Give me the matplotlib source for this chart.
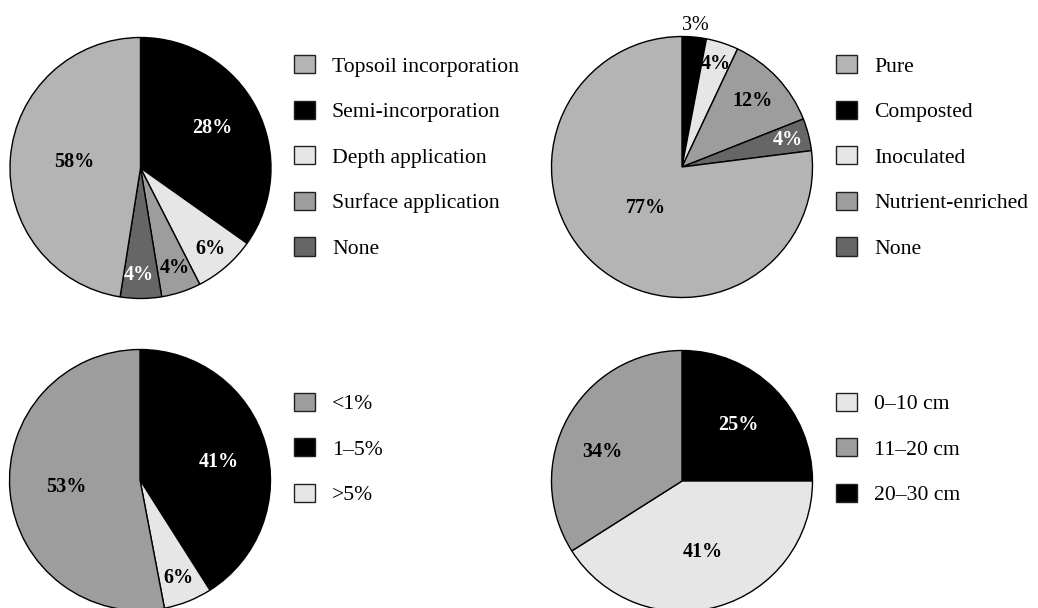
import numpy as np
import matplotlib
matplotlib.use("Agg")
import matplotlib.pyplot as plt
from matplotlib.patches import Patch

plt.rcParams['font.family'] = ['Liberation Serif', 'DejaVu Serif']

# colours
LIGHT = '#e6e6e6'
PALE = '#b4b4b4'
MID = '#9d9d9d'
DARK = '#666666'
BLACK = '#000000'

# ---- data (legend order) ----
cats1 = ['Topsoil incorporation', 'Semi-incorporation', 'Depth application',
         'Surface application', 'None']
pct1 = [58, 28, 6, 4, 4]                 # printed labels
share1 = [47.5, 34.8, 7.7, 4.9, 5.1]     # wedge sizes as drawn
col1 = [PALE, BLACK, LIGHT, MID, DARK]
order1 = [1, 2, 3, 4, 0]                 # clockwise from 12 o'clock

cats2 = ['Pure', 'Composted', 'Inoculated', 'Nutrient-enriched', 'None']
pct2 = [77, 3, 4, 12, 4]
share2 = [77, 3, 4, 12, 4]
col2 = [PALE, BLACK, LIGHT, MID, DARK]
order2 = [1, 2, 3, 4, 0]

cats3 = ['<1%', '1\u20135%', '>5%']
pct3 = [53, 41, 6]
share3 = [53, 41, 6]
col3 = [MID, BLACK, LIGHT]
order3 = [1, 2, 0]

cats4 = ['0\u201310 cm', '11\u201320 cm', '20\u201330 cm']
pct4 = [41, 34, 25]
share4 = [41, 34, 25]
col4 = [LIGHT, MID, BLACK]
order4 = [2, 0, 1]

# label placement (radius fraction, angle tweak) in clockwise order
lab1 = [(0.63, 2), (0.82, 0), (0.81, 1), (0.82, -1), (0.51, -1)]
lab2 = [(1.09, 0), (0.83, 0), (0.74, 0), (0.84, 0), (0.42, 0)]
lab3 = [(0.62, -3), (0.81, 0), (0.57, 0)]
lab4 = [(0.61, 0), (0.57, 0), (0.65, 9)]

W, H = 1038, 608
R = 130.5
fig = plt.figure(figsize=(W / 100, H / 100), dpi=100)


def draw(cx, cy, cats, pct, share, cols, order, labpos, legx, legy):
    ax = fig.add_axes([(cx - R) / W, (H - cy - R) / H, 2 * R / W, 2 * R / H])
    sizes = [share[i] for i in order]
    colors = [cols[i] for i in order]
    wedges, _ = ax.pie(sizes, colors=colors, startangle=90, counterclock=False,
                       wedgeprops=dict(edgecolor='black', linewidth=1.0))
    ax.set_xlim(-1, 1)
    ax.set_ylim(-1, 1)
    ax.set_aspect('equal')
    ax.axis('off')
    for w, i, (r, off) in zip(wedges, order, labpos):
        w.set_clip_on(False)
        ang = np.deg2rad((w.theta1 + w.theta2) / 2 + off)
        outside = r > 1
        dark = cols[i] in (BLACK, DARK)
        ax.text(r * np.cos(ang), r * np.sin(ang), '%d%%' % pct[i],
                ha='center', va='center', fontsize=14.5,
                fontweight='normal' if outside else 'bold',
                color='white' if (dark and not outside) else 'black')
    handles = [Patch(facecolor=c, edgecolor='#222222', linewidth=1.0) for c in cols]
    fig.legend(handles, cats, loc='center left',
               bbox_to_anchor=(legx / W, 1 - legy / H),
               bbox_transform=fig.transFigure, frameon=False,
               fontsize=15.6, handlelength=0.95, handleheight=0.92,
               handletextpad=0.8, labelspacing=1.11,
               borderpad=0, borderaxespad=0)


draw(140.5, 168, cats1, pct1, share1, col1, order1, lab1, 294, 157)
draw(682, 167, cats2, pct2, share2, col2, order2, lab2, 836, 157)
draw(140, 480, cats3, pct3, share3, col3, order3, lab3, 294, 449)
draw(682, 481, cats4, pct4, share4, col4, order4, lab4, 836, 449)

fig.savefig('out.png', dpi=100)
